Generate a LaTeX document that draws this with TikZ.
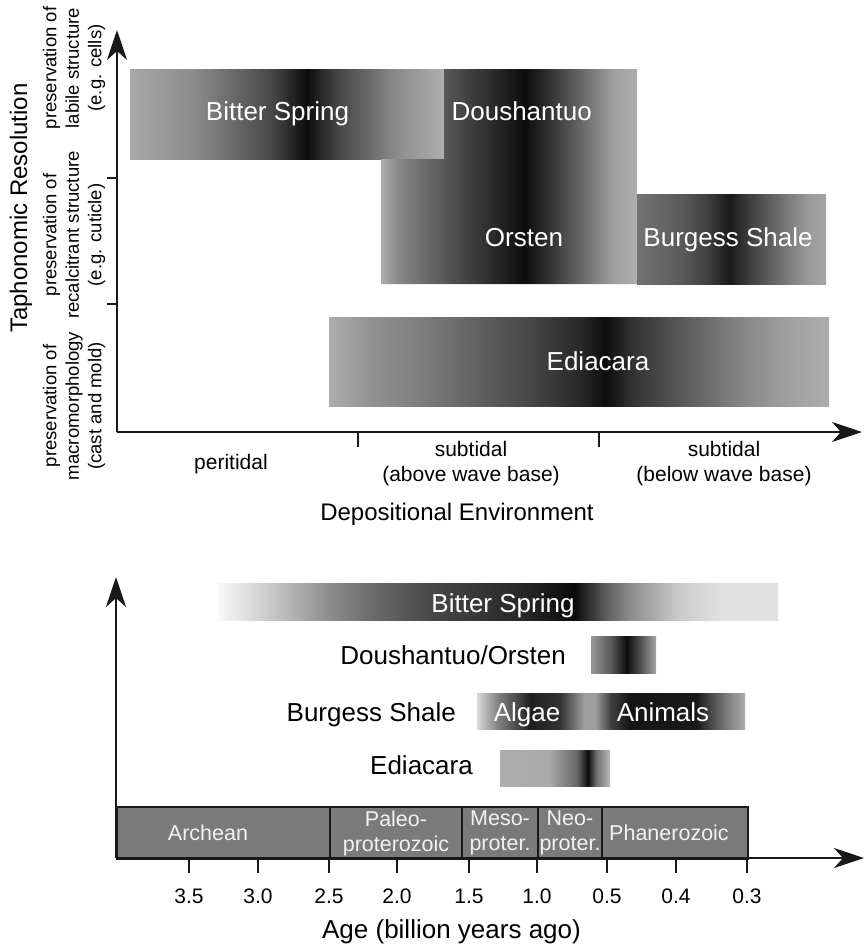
\documentclass[tikz,border=0pt]{standalone}
\usepackage{fontspec}
\setmainfont{Liberation Sans}
\usetikzlibrary{arrows.meta}

% top panel shadings (bbox maps to 25bp..75bp)
\pgfdeclarehorizontalshading{tBS}{100bp}{rgb(0bp)=(.66,.66,.66); rgb(25bp)=(.66,.66,.66); rgb(35bp)=(.55,.55,.55); rgb(47.5bp)=(.28,.28,.28); rgb(53.25bp)=(.05,.05,.05); rgb(57.5bp)=(.25,.25,.25); rgb(67.5bp)=(.55,.55,.55); rgb(75bp)=(.68,.68,.68); rgb(100bp)=(.68,.68,.68)}
\pgfdeclarehorizontalshading{tDO}{100bp}{rgb(0bp)=(.68,.68,.68); rgb(25bp)=(.68,.68,.68); rgb(28.7bp)=(.52,.52,.52); rgb(37.1bp)=(.35,.35,.35); rgb(44.9bp)=(.2,.2,.2); rgb(53.1bp)=(.05,.05,.05); rgb(58bp)=(.2,.2,.2); rgb(64.5bp)=(.42,.42,.42); rgb(70.3bp)=(.62,.62,.62); rgb(75bp)=(.68,.68,.68); rgb(100bp)=(.68,.68,.68)}
\pgfdeclarehorizontalshading{tBu}{100bp}{rgb(0bp)=(.45,.45,.45); rgb(25bp)=(.45,.45,.45); rgb(37.2bp)=(.35,.35,.35); rgb(43.5bp)=(.25,.25,.25); rgb(49.6bp)=(.1,.1,.1); rgb(54.9bp)=(.25,.25,.25); rgb(63.6bp)=(.45,.45,.45); rgb(70bp)=(.6,.6,.6); rgb(75bp)=(.65,.65,.65); rgb(100bp)=(.65,.65,.65)}
\pgfdeclarehorizontalshading{tEd}{100bp}{rgb(0bp)=(.68,.68,.68); rgb(25bp)=(.68,.68,.68); rgb(28.8bp)=(.58,.58,.58); rgb(35.4bp)=(.47,.47,.47); rgb(38.8bp)=(.4,.4,.4); rgb(45.4bp)=(.27,.27,.27); rgb(50.4bp)=(.15,.15,.15); rgb(52.6bp)=(.05,.05,.05); rgb(55.4bp)=(.2,.2,.2); rgb(60.4bp)=(.35,.35,.35); rgb(65.4bp)=(.5,.5,.5); rgb(70.4bp)=(.62,.62,.62); rgb(75bp)=(.68,.68,.68); rgb(100bp)=(.68,.68,.68)}
% bottom panel shadings
\pgfdeclarehorizontalshading{bBS}{100bp}{rgb(0bp)=(.98,.98,.98); rgb(25bp)=(.98,.98,.98); rgb(30.6bp)=(.75,.75,.75); rgb(35bp)=(.55,.55,.55); rgb(39.5bp)=(.4,.4,.4); rgb(44bp)=(.28,.28,.28); rgb(52.5bp)=(.15,.15,.15); rgb(56.9bp)=(.04,.04,.04); rgb(59.5bp)=(.35,.35,.35); rgb(61.8bp)=(.55,.55,.55); rgb(66.25bp)=(.8,.8,.8); rgb(70bp)=(.88,.88,.88); rgb(75bp)=(.88,.88,.88); rgb(100bp)=(.88,.88,.88)}
\pgfdeclarehorizontalshading{bDO}{100bp}{rgb(0bp)=(.6,.6,.6); rgb(25bp)=(.6,.6,.6); rgb(40bp)=(.35,.35,.35); rgb(52.5bp)=(.05,.05,.05); rgb(62.5bp)=(.3,.3,.3); rgb(75bp)=(.65,.65,.65); rgb(100bp)=(.65,.65,.65)}
\pgfdeclarehorizontalshading{bBu}{100bp}{rgb(0bp)=(.85,.85,.85); rgb(25bp)=(.85,.85,.85); rgb(29bp)=(.5,.5,.5); rgb(35bp)=(.12,.12,.12); rgb(40.5bp)=(.2,.2,.2); rgb(45bp)=(.62,.62,.62); rgb(47bp)=(.62,.62,.62); rgb(50bp)=(.25,.25,.25); rgb(53.5bp)=(.08,.08,.08); rgb(66bp)=(.1,.1,.1); rgb(71bp)=(.45,.45,.45); rgb(75bp)=(.68,.68,.68); rgb(100bp)=(.68,.68,.68)}
\pgfdeclarehorizontalshading{bEd}{100bp}{rgb(0bp)=(.68,.68,.68); rgb(25bp)=(.68,.68,.68); rgb(47.5bp)=(.66,.66,.66); rgb(60bp)=(.4,.4,.4); rgb(65bp)=(.05,.05,.05); rgb(69bp)=(.45,.45,.45); rgb(75bp)=(.72,.72,.72); rgb(100bp)=(.72,.72,.72)}

\definecolor{axisc}{gray}{0.1}
\definecolor{erafill}{gray}{0.48}
\definecolor{eratxt}{gray}{0.95}

\tikzset{
  axisline/.style={line width=2pt, draw=axisc, -{Stealth[length=30pt,width=20pt,inset=9pt]}},
  tickline/.style={line width=2pt, draw=axisc},
  whitelab/.style={text=white, font=\fontsize{26}{30}\selectfont, inner sep=0pt, anchor=base},
  blacklab/.style={text=black, font=\fontsize{26}{30}\selectfont, inner sep=0pt, anchor=base east},
  catlab/.style={rotate=90, align=center, font=\fontsize{18.5}{22.5}\selectfont, inner sep=0pt},
  envlab/.style={font=\fontsize{21}{25}\selectfont, inner sep=0pt, anchor=base},
  titlelab/.style={inner sep=0pt, anchor=base},
  erabox/.style={draw=axisc, line width=2pt, fill=erafill, anchor=north west, minimum height=52pt, inner sep=0pt},
  eratext/.style={text=eratxt, align=center, font=\fontsize{21.5}{25}\selectfont, inner sep=0pt}
}

\begin{document}
\begin{tikzpicture}[x=1pt,y=-1pt]
\useasboundingbox (0,0) rectangle (866,948);
\fill[white] (0,0) rectangle (866,948);

% ================= top panel =================
\shade[shading=tBS] (130,69) rectangle (444,159);
\shade[shading=tDO] (444,69) -- (637,69) -- (637,284) -- (381,284) -- (381,159) -- (444,159) -- cycle;
\shade[shading=tBu] (637,194) rectangle (826,284);
\shade[shading=tEd] (329,317) rectangle (829,406);

\node[whitelab] (tbs) at (277.5,120.7) {Bitter Spring};
\node[whitelab] (tdou) at (521.7,120) {Doushantuo};
\node[whitelab] (tors) at (524,246.7) {Orsten};
\node[whitelab] (tbur) at (728,246) {Burgess Shale};
\node[whitelab] (tedi) at (598,370) {Ediacara};

\coordinate (tO) at (117,432);
\coordinate (tY) at (117,30);
\coordinate (tX) at (862,432);
\draw[axisline] (tO) -- (tY);
\draw[axisline] (tO) -- (tX);

\coordinate (ty1) at (117,178);
\coordinate (ty2) at (117,304);
\draw[tickline] (ty1) -- ++(-10,0);
\draw[tickline] (ty2) -- ++(-10,0);
\coordinate (tx1) at (358,432);
\coordinate (tx2) at (599,432);
\draw[tickline] (tx1) -- ++(0,15);
\draw[tickline] (tx2) -- ++(0,15);

\node[rotate=90, inner sep=0pt, font=\fontsize{24}{28}\selectfont] (taph) at (21,208) {Taphonomic Resolution};
\node[catlab] (cat1) at (74,68) {preservation of\\labile structure\\(e.g. cells)};
\node[catlab] (cat2) at (74,235) {preservation of\\recalcitrant structure\\(e.g. cuticle)};
\node[catlab] (cat3) at (74,406) {preservation of\\macromorphology\\(cast and mold)};

\node[envlab] (peri) at (231,469) {peritidal};
\node[envlab] (sub1) at (471,456) {subtidal};
\node[envlab] (sub1b) at (471,481) {(above wave base)};
\node[envlab] (sub2) at (724,456) {subtidal};
\node[envlab] (sub2b) at (724,481) {(below wave base)};
\node[titlelab, font=\fontsize{24}{28}\selectfont] (dep) at (457,520) {Depositional Environment};

% ================= bottom panel =================
\shade[shading=bBS] (217,583) rectangle (778,620);
\shade[shading=bDO] (591,636) rectangle (656,673);
\shade[shading=bBu] (477,693) rectangle (745,729);
\shade[shading=bEd] (500,750) rectangle (610,786);

\node[whitelab] (bbs) at (503,612) {Bitter Spring};
\node[whitelab] (balg) at (527,721) {Algae};
\node[whitelab] (bani) at (663,721) {Animals};
\node[blacklab] (bdo) at (566,664) {Doushantuo/Orsten};
\node[blacklab] (bbu) at (456,721) {Burgess Shale};
\node[blacklab] (bed) at (473,774) {Ediacara};

% era boxes
\node[erabox, minimum width=213pt] (arch) at (116,806) {};
\node[erabox, minimum width=132pt] (paleo) at (329,806) {};
\node[erabox, minimum width=76pt] (meso) at (461,806) {};
\node[erabox, minimum width=64pt] (neo) at (537,806) {};
\node[erabox, minimum width=146pt] (phan) at (601,806) {};
\node[eratext] (archT) at ([xshift=-15.5pt]arch.center) {Archean};
\node[eratext] (paleoT) at (paleo.center) {Paleo-\\proterozoic};
\node[eratext] (mesoT) at (meso.center) {Meso-\\proter.};
\node[eratext] (neoT) at (neo.center) {Neo-\\proter.};
\node[eratext] (phanT) at ([xshift=-6pt]phan.center) {Phanerozoic};

\coordinate (bO) at (116,858);
\coordinate (bY) at (116,577);
\coordinate (bX) at (864,858);
\draw[axisline] (bO) -- (bY);
\draw[axisline] (bO) -- (bX);

\foreach \xx/\lab [count=\i] in {189/3.5, 258/3.0, 329/2.5, 397/2.0, 469/1.5, 537/1.0, 607/0.5, 676/0.4, 747/0.3}{
  \coordinate (bt\i) at (\xx,858);
  \draw[tickline] (bt\i) -- ++(0,15);
  \node[envlab] (btl\i) at (\xx,903) {\lab};
}
\node[titlelab, font=\fontsize{26}{30}\selectfont] (age) at (451.5,938) {Age (billion years ago)};
\end{tikzpicture}
\end{document}
